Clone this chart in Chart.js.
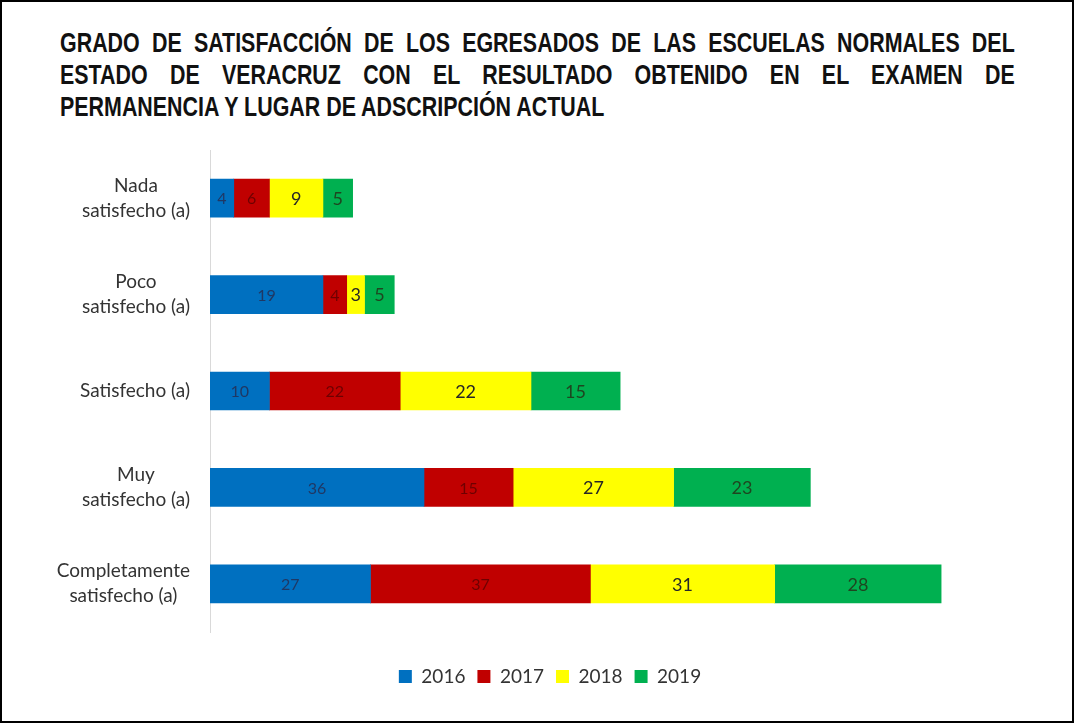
<!DOCTYPE html>
<html>
<head>
<meta charset="utf-8">
<script src="https://cdn.jsdelivr.net/npm/chart.js@4/dist/chart.umd.min.js"></script>
<style>
  html, body { margin: 0; padding: 0; background: #fff; }
  #frame { position: relative; width: 1074px; height: 723px; box-sizing: border-box; border: 2px solid #000; background: #fff; overflow: hidden; }
  #title { position: absolute; left: 58px; top: 25px; width: 1248px; transform: scaleX(0.765); transform-origin: 0 0; font-family: "Liberation Sans", Arial, sans-serif; font-weight: bold; font-size: 28px; line-height: 32px; color: #111; }
  #title .j { text-align: justify; text-align-last: justify; }
  #title .l { text-align: left; }
  #wrap { position: absolute; left: 0; top: 138px; width: 1070px; height: 556px; }
</style>
</head>
<body>
<div id="frame">
  <div id="title">
    <div class="j">GRADO DE SATISFACCIÓN DE LOS EGRESADOS DE LAS ESCUELAS NORMALES DEL</div>
    <div class="j">ESTADO DE VERACRUZ CON EL RESULTADO OBTENIDO EN EL EXAMEN DE</div>
    <div class="l">PERMANENCIA Y LUGAR DE ADSCRIPCIÓN ACTUAL</div>
  </div>
  <div id="wrap"><canvas id="c"></canvas></div>
</div>
<script>
const categories = [
  ['Nada', 'satisfecho (a)'],
  ['Poco', 'satisfecho (a)'],
  ['Satisfecho (a)'],
  ['Muy', 'satisfecho (a)'],
  ['Completamente', 'satisfecho (a)']
];
const seriesNames = ['2016', '2017', '2018', '2019'];
const values2016 = [4, 19, 10, 36, 27];
const values2017 = [6, 4, 22, 15, 37];
const values2018 = [9, 3, 22, 27, 31];
const values2019 = [5, 5, 15, 23, 28];
const colors = ['#0070C0', '#C00000', '#FFFF00', '#00B050'];
const labelColors = ['#1F3864', '#6E0000', '#262626', '#1E4620'];
const labelFonts = ['16px Lato, sans-serif', '16px Lato, sans-serif', '18px Lato, sans-serif', '18px Lato, sans-serif'];

const seriesValues = [values2016, values2017, values2018, values2019];

const catLabelPlugin = {
  id: 'catLabels',
  afterDraw(chart) {
    const ctx = chart.ctx;
    const y = chart.scales.y;
    ctx.save();
    ctx.font = '19px Lato, sans-serif';
    ctx.fillStyle = '#333333';
    ctx.textBaseline = 'middle';
    ctx.textAlign = 'center';
    const right = chart.chartArea.left - 20;
    const lh = 25;
    categories.forEach((lines, i) => {
      const cy = y.getPixelForValue(i);
      const w = Math.max(...lines.map(l => ctx.measureText(l).width));
      const cx = right - w / 2;
      const start = cy - (lines.length - 1) * lh / 2;
      lines.forEach((l, j) => ctx.fillText(l, cx, start + j * lh));
    });
    ctx.restore();
  }
};

const valueLabelPlugin = {
  id: 'valueLabels',
  afterDatasetsDraw(chart) {
    const ctx = chart.ctx;
    ctx.save();
    ctx.textAlign = 'center';
    ctx.textBaseline = 'middle';
    chart.data.datasets.forEach((ds, di) => {
      const meta = chart.getDatasetMeta(di);
      meta.data.forEach((bar, i) => {
        const p = bar.getProps(['x', 'y', 'base'], true);
        ctx.font = labelFonts[di];
        ctx.fillStyle = labelColors[di];
        ctx.fillText(String(ds.data[i]), (p.x + p.base) / 2, p.y + 1);
      });
    });
    ctx.restore();
  }
};

new Chart(document.getElementById('c'), {
  type: 'bar',
  data: {
    labels: categories.map(c => c.join(' ')),
    datasets: seriesNames.map((n, i) => ({
      label: n,
      data: seriesValues[i],
      backgroundColor: colors[i],
      borderWidth: 0,
      barThickness: 38
    }))
  },
  options: {
    indexAxis: 'y',
    responsive: true,
    maintainAspectRatio: false,
    animation: false,
    layout: { padding: { left: 38, right: 12, top: 10, bottom: 0 } },
    scales: {
      x: {
        stacked: true, min: 0, max: 143,
        grid: { display: false },
        border: { display: false },
        ticks: { display: false },
        afterFit(s) { s.height = 23; }
      },
      y: {
        stacked: true,
        grid: { display: false },
        border: { display: true, color: '#D9D9D9', width: 1 },
        ticks: { display: false },
        afterFit(s) { s.width = 170; }
      }
    },
    plugins: {
      legend: {
        position: 'bottom',
        labels: {
          boxWidth: 13, boxHeight: 13, padding: 12,
          font: { family: 'Lato, sans-serif', size: 19 },
          color: '#333333'
        }
      },
      tooltip: { enabled: false },
      title: { display: false }
    }
  },
  plugins: [catLabelPlugin, valueLabelPlugin]
});
</script>
</body>
</html>
